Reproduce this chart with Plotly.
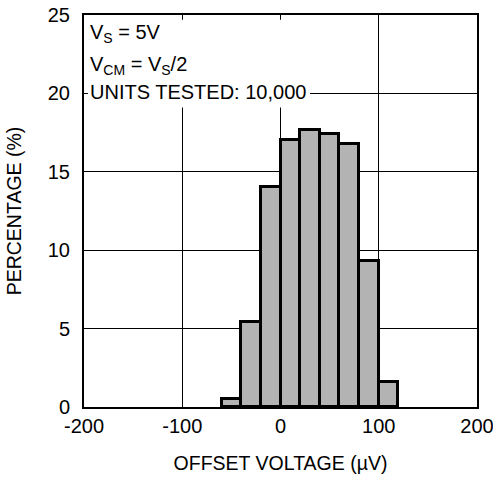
import plotly.graph_objects as go

# histogram bins (uV) and percentages
bin_centers = [-50, -30, -10, 10, 30, 50, 70, 90, 110]
percentages = [0.5, 5.4, 14.0, 17.0, 17.65, 17.4, 16.8, 9.3, 1.6]
bin_width = 20

x_ticks = [-200, -100, 0, 100, 200]
y_ticks = [0, 5, 10, 15, 20, 25]

font = "Liberation Sans, Arial, sans-serif"

fig = go.Figure(
    go.Bar(
        x=bin_centers,
        y=percentages,
        width=bin_width,
        marker=dict(color="#b3b3b3", line=dict(color="black", width=3)),
    )
)

fig.update_layout(
    width=493,
    height=480,
    margin=dict(l=84, r=16, t=15, b=73),
    plot_bgcolor="white",
    paper_bgcolor="white",
    showlegend=False,
    bargap=0,
    font=dict(family=font, color="black", size=20),
)

fig.update_xaxes(
    range=[-200, 200],
    tickvals=x_ticks,
    ticktext=[str(v) for v in x_ticks],
    showgrid=True,
    gridcolor="black",
    gridwidth=1,
    zeroline=False,
    showline=True,
    linecolor="black",
    linewidth=2,
    mirror=True,
    ticks="",
    automargin=False,
    ticklabeloverflow="allow",
    tickfont=dict(size=20),
    title=dict(text="OFFSET VOLTAGE (\u00b5V)", font=dict(size=19.5), standoff=20),
)
fig.update_yaxes(
    range=[0, 25],
    tickvals=y_ticks,
    showgrid=True,
    gridcolor="black",
    gridwidth=1,
    zeroline=False,
    showline=True,
    linecolor="black",
    linewidth=2,
    mirror=True,
    ticks="",
    automargin=False,
    ticklabeloverflow="allow",
    ticklabelstandoff=8,
    tickfont=dict(size=20),
    title=dict(text="PERCENTAGE (%)", font=dict(size=19.5), standoff=21),
)

# white box behind the notes, hiding the grid there
fig.add_shape(
    type="rect",
    xref="x",
    yref="y",
    x0=-196,
    x1=30,
    y0=19.1,
    y1=24.7,
    fillcolor="white",
    line=dict(width=0),
    layer="between",
)

notes = [
    ("V<sub>S</sub> = 5V", 33),
    ("V<sub>CM</sub> = V<sub>S</sub>/2", 66),
    ("UNITS TESTED: 10,000", 92),
]
for text, ypx in notes:
    fig.add_annotation(
        text=text,
        xref="paper",
        yref="paper",
        x=(88 - 84) / (493 - 100),
        y=(407 - ypx) / (407 - 15),
        xanchor="left",
        yanchor="middle",
        showarrow=False,
        font=dict(size=20),
    )

# drop the default page margin so the figure fills the window
fig.write_html(
    "out.html",
    config={"displayModeBar": False},
    post_script="document.body.style.margin='0';",
)
